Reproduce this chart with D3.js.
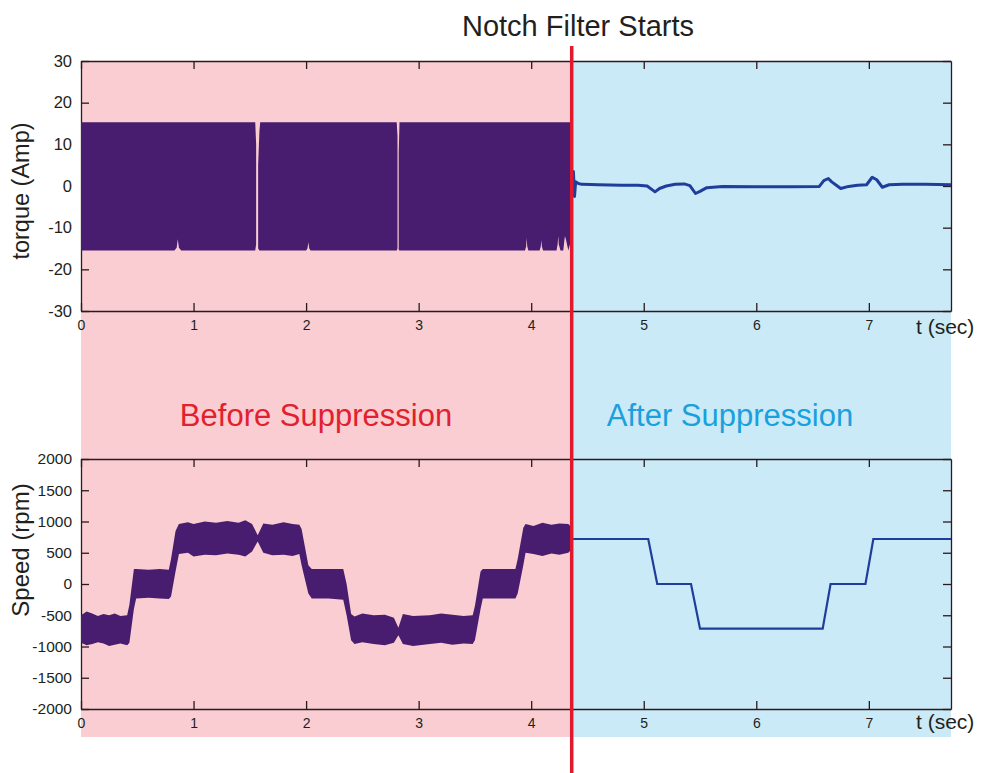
<!DOCTYPE html>
<html><head><meta charset="utf-8">
<script src="https://cdn.jsdelivr.net/npm/d3@7"></script>
<style>body{margin:0;background:#fff}svg{display:block;font-family:"Liberation Sans",Arial,sans-serif}</style>
</head><body><svg id="c" width="985" height="773"></svg>
<script>
const xTicks = [0,1,2,3,4,5,6,7];
const torqueTicks = [-30,-20,-10,0,10,20,30];
const speedTicks = [-2000,-1500,-1000,-500,0,500,1000,1500,2000];
const tMax = 7.73, tNotch = 4.36;

// torque envelope before suppression (null = gap)
const torqueBandT  = [0.00,0.83,0.85,0.86,0.87,0.89,1.548,1.556,1.565,1.574,1.585,1.592,2.00,2.012,2.02,2.028,2.04,2.805,2.812,2.818,2.823,2.83,3.945,3.955,3.96,3.965,3.975,4.075,4.085,4.09,4.095,4.105,4.225,4.235,4.24,4.245,4.26,4.285,4.295,4.30,4.31,4.33,4.345,4.362];
const torqueBandHi = [15.3,15.3,15.3,15.3,15.3,15.3,15.3,10,null,5,13,15.3,15.3,15.3,15.3,15.3,15.3,15.3,12,null,8,15.3,15.3,15.3,15.3,15.3,15.3,15.3,15.3,15.3,15.3,15.3,15.3,15.3,15.3,15.3,15.3,15.3,15.3,15.3,15.3,15.3,15.3,14];
const torqueBandLo = [-15.5,-15.5,-14.8,-12.8,-14.8,-15.5,-15.5,-14,null,-15,-15.5,-15.5,-15.5,-15,-13.5,-15,-15.5,-15.5,-15,null,-15.3,-15.5,-15.5,-14.5,-12.5,-14.5,-15.5,-15.5,-14.5,-13,-14.5,-15.5,-15.5,-14,-12,-14,-15.5,-15.5,-13,-12,-13,-15.5,-14,-9];

// torque after suppression
const torqueAfterT = [4.36,4.375,4.385,4.395,4.42,4.45,4.6,4.8,4.95,5.03,5.08,5.10,5.14,5.2,5.28,5.36,5.41,5.46,5.50,5.56,5.7,6.0,6.3,6.56,6.60,6.64,6.67,6.72,6.75,6.82,6.9,6.98,7.03,7.07,7.12,7.18,7.3,7.5,7.73];
const torqueAfter  = [0,3.5,-2.5,1.0,0.6,0.4,0.3,0.2,0.2,0.0,-1.0,-1.4,-0.6,0.0,0.4,0.5,0.1,-1.8,-1.3,-0.4,-0.1,-0.2,-0.2,-0.1,1.3,1.8,1.0,0.0,-0.6,-0.1,0.2,0.3,2.1,1.5,-0.3,0.3,0.4,0.4,0.3];

// speed envelope before suppression
const speedBandT  = [0.00,0.05,0.10,0.15,0.20,0.25,0.30,0.35,0.41,0.43,0.47,0.49,0.60,0.70,0.78,0.80,0.84,0.87,0.95,1.00,1.10,1.20,1.30,1.40,1.46,1.52,1.57,1.62,1.70,1.80,1.88,1.94,1.96,2.02,2.05,2.20,2.33,2.36,2.40,2.43,2.50,2.60,2.70,2.78,2.82,2.86,2.95,3.10,3.20,3.30,3.40,3.48,3.50,3.55,3.57,3.86,3.88,3.93,3.95,4.02,4.10,4.18,4.25,4.33,4.362];
const speedBandHi = [-500,-440,-470,-510,-480,-500,-470,-510,-500,-330,240,240,230,240,230,400,850,960,990,960,1000,980,1010,980,1020,960,780,970,950,990,960,950,880,300,240,240,240,0,-480,-520,-470,-500,-490,-540,-700,-480,-510,-500,-470,-490,-510,-500,-350,200,240,240,400,900,960,930,980,950,970,960,900];
const speedBandLo = [-940,-980,-960,-930,-950,-990,-970,-950,-980,-940,-400,-230,-220,-230,-240,-200,200,480,500,440,470,460,490,470,440,520,680,500,460,470,450,480,300,-150,-230,-230,-250,-500,-900,-960,-930,-960,-980,-940,-820,-960,-990,-960,-940,-970,-950,-960,-900,-400,-230,-230,-150,300,500,480,450,490,470,500,560];

// speed after suppression
const speedAfterT = [4.36,5.04,5.12,5.42,5.50,6.59,6.66,6.97,7.04,7.73];
const speedAfter  = [720,720,0,0,-715,-715,0,0,720,720];

const svg = d3.select("#c");
const x = d3.scaleLinear().domain([0,tMax]).range([81,951]);
const yT = d3.scaleLinear().domain([-30,30]).range([311,61]);
const yS = d3.scaleLinear().domain([-2000,2000]).range([709,459]);

// backgrounds
svg.append("rect").attr("x",x(0)).attr("y",61).attr("width",x(tNotch)-x(0)).attr("height",737-61).attr("fill","#f9cdd2");
svg.append("rect").attr("x",x(tNotch)).attr("y",61).attr("width",x(tMax)-x(tNotch)).attr("height",737-61).attr("fill","#cbeaf7");

const ink = "#2a1a1c";
const fmt = d => String(d);
function axes(y, ticks, top, bottom, fs){
  const gB = svg.append("g").attr("transform",`translate(0,${bottom})`)
    .call(d3.axisBottom(x).tickValues(xTicks).tickSizeInner(-8).tickSizeOuter(0).tickPadding(9).tickFormat(fmt));
  const gT = svg.append("g").attr("transform",`translate(0,${top})`)
    .call(d3.axisTop(x).tickValues(xTicks).tickSizeInner(-8).tickSizeOuter(0).tickFormat(""));
  const gL = svg.append("g").attr("transform",`translate(${x(0)},0)`)
    .call(d3.axisLeft(y).tickValues(ticks).tickSizeInner(-8).tickSizeOuter(0).tickPadding(9).tickFormat(fmt));
  const gR = svg.append("g").attr("transform",`translate(${x(tMax)},0)`)
    .call(d3.axisRight(y).tickValues(ticks).tickSizeInner(-8).tickSizeOuter(0).tickFormat(""));
  [gB,gT,gL,gR].forEach(g=>{
    g.selectAll("path,line").attr("stroke",ink).attr("stroke-width",1.3);
    g.selectAll("text").attr("fill","#231f20").style("font-family",'"Liberation Sans",Arial,sans-serif');
  });
  gB.selectAll("text").style("font-size","14px");
  gL.selectAll("text").style("font-size",fs+"px");
}
axes(yT, torqueTicks, 61, 311, 16.5);
axes(yS, speedTicks, 459, 709, 15.5);

const purple = "#481c6e", navy = "#1f3e9c";

// torque band
const tb = torqueBandT.map((t,i)=>({t,hi:torqueBandHi[i],lo:torqueBandLo[i]}));
svg.append("path").datum(tb)
  .attr("d", d3.area().defined(d=>d.hi!==null).x(d=>x(d.t)).y0(d=>yT(d.lo)).y1(d=>yT(d.hi)))
  .attr("fill",purple);
// torque after
svg.append("path").datum(torqueAfterT.map((t,i)=>({t,v:torqueAfter[i]})))
  .attr("d", d3.line().x(d=>x(d.t)).y(d=>yT(d.v)))
  .attr("fill","none").attr("stroke",navy).attr("stroke-width",3).attr("stroke-linejoin","round");

// speed band
const sb = speedBandT.map((t,i)=>({t,hi:speedBandHi[i],lo:speedBandLo[i]}));
svg.append("path").datum(sb)
  .attr("d", d3.area().x(d=>x(d.t)).y0(d=>yS(d.lo)).y1(d=>yS(d.hi)))
  .attr("fill",purple);
svg.append("path").datum(speedAfterT.map((t,i)=>({t,v:speedAfter[i]})))
  .attr("d", d3.line().x(d=>x(d.t)).y(d=>yS(d.v)))
  .attr("fill","none").attr("stroke",navy).attr("stroke-width",2.2);

// notch line
svg.append("line").attr("x1",x(tNotch)).attr("x2",x(tNotch)).attr("y1",46).attr("y2",773)
  .attr("stroke","#e2192c").attr("stroke-width",3.5);

// texts
const T = (s,xx,yy,size,fill,anchor,rot)=>{
  const t = svg.append("text").text(s).attr("font-size",size).attr("fill",fill).attr("text-anchor",anchor||"start");
  if(rot) t.attr("transform",`translate(${xx},${yy}) rotate(-90)`); else t.attr("x",xx).attr("y",yy);
  return t;
};
T("Notch Filter Starts",578,36,29,"#231f20","middle");
T("t (sec)",916,334,21,"#231f20");
T("t (sec)",916,729,21,"#231f20");
T("torque (Amp)",29,191,23.5,"#231f20","middle",true);
T("Speed (rpm)",29,550,24,"#231f20","middle",true);
T("Before Suppression",316,426,31,"#e2202e","middle");
T("After Suppression",730,426,31,"#1aa0dd","middle");
</script></body></html>
